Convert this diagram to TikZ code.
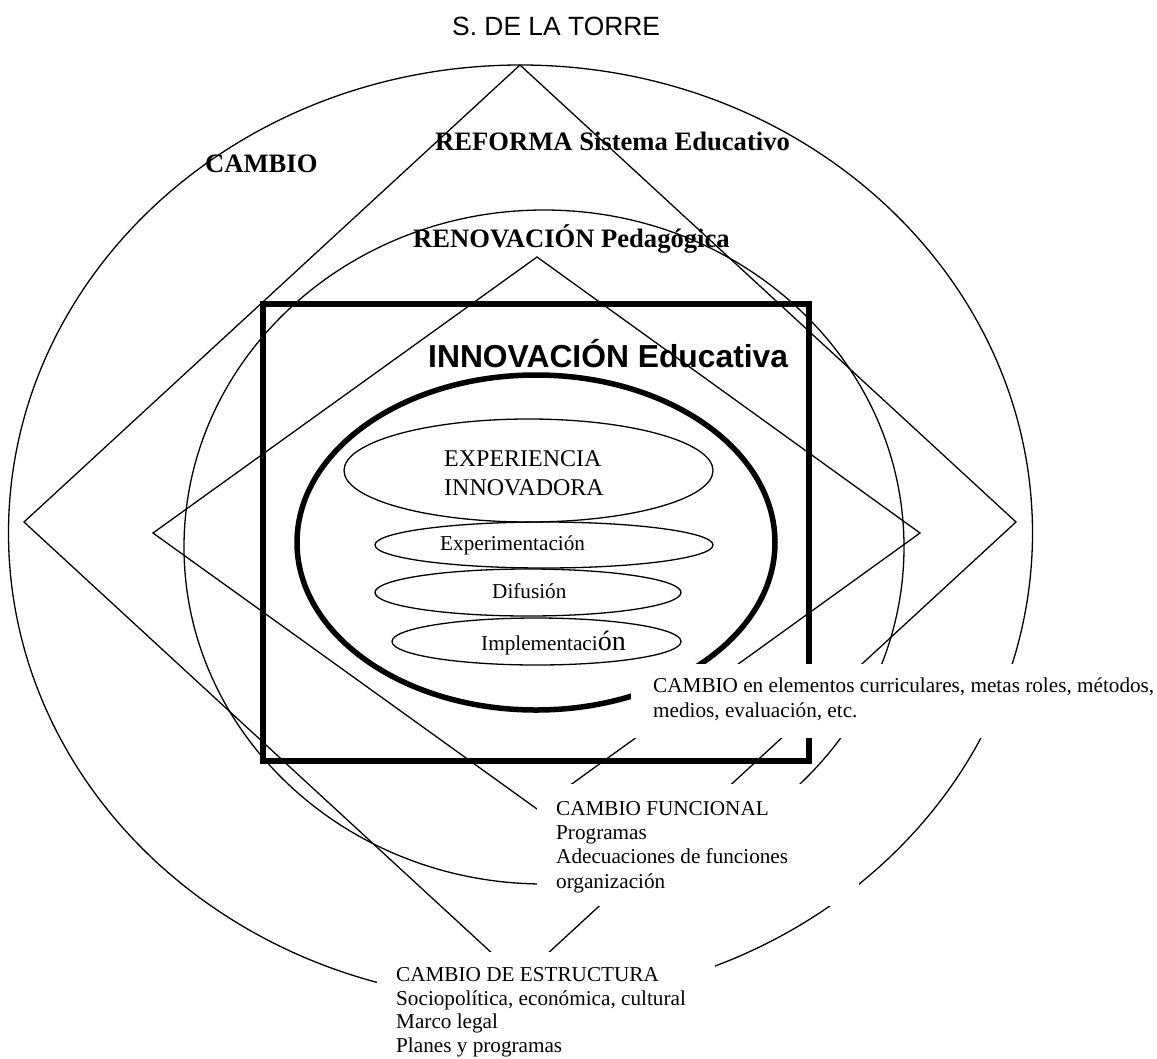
\documentclass[tikz,border=0pt]{standalone}
\usepackage{fontspec}
\setmainfont{Liberation Serif}
\newfontfamily\arialfont{Liberation Sans}
\usetikzlibrary{shapes.geometric}

\begin{document}
\begin{tikzpicture}[x=1pt,y=-1pt,
  thinline/.style={line width=1.3pt, line join=miter},
  heavy/.style={line width=5.5pt},
  oval/.style={ellipse, draw, line width=1.3pt, inner sep=0pt},
  txt/.style={inner sep=0pt, anchor=base west, align=left,
    font=\fontsize{21.2}{24.3}\selectfont},
  bigtxt/.style={inner sep=0pt, anchor=base west, align=left,
    font=\fontsize{24}{29}\selectfont},
  heading/.style={inner sep=0pt, anchor=base west,
    font=\bfseries\fontsize{26.6}{30}\selectfont},
  cover/.style={fill=white, draw=none},
]
\useasboundingbox (0,0) rectangle (1157,1058);
\fill[white] (0,0) rectangle (1157,1058);

% ---- CAMBIO: outer ellipse
\node[oval, minimum width=1024pt, minimum height=936pt] (cambio) at (520.5,533) {};

% ---- REFORMA: outer diamond
\coordinate (rT) at (520,65);
\coordinate (rR) at (1016,522);
\coordinate (rB) at (520,979);
\coordinate (rL) at (24,522);
\draw[thinline] (rT) -- (rR) -- (rB) -- (rL) -- cycle;

% ---- RENOVACION: middle ellipse
\node[oval, minimum width=720pt, minimum height=674pt] (renov) at (544,547) {};

% ---- inner diamond
\coordinate (pT) at (537,257);
\coordinate (pR) at (920,533);
\coordinate (pB) at (537,809);
\coordinate (pL) at (153,533);
\draw[thinline] (pT) -- (pR) -- (pB) -- (pL) -- cycle;

% ---- INNOVACION: heavy frame and heavy ellipse
\node[draw, heavy, rectangle, inner sep=0pt, minimum width=546pt, minimum height=457pt] (frame) at (536,532.5) {};
\node[ellipse, draw, heavy, inner sep=0pt, minimum width=478pt, minimum height=335pt] (core) at (536,542.5) {};

% ---- stages
\node[oval, minimum width=369pt, minimum height=103pt] (expe) at (528.5,470.5) {};
\node[oval, minimum width=338pt, minimum height=46pt] (exper) at (544,545) {};
\node[oval, minimum width=306pt, minimum height=47pt] (difu) at (528,592.5) {};
\node[oval, minimum width=289pt, minimum height=47pt] (impl) at (536.5,641.5) {};

% ---- labels (multi-line labels are anchored on their last baseline)
\node[inner sep=0pt, anchor=base west, font=\arialfont\fontsize{26.4}{30}\selectfont] (title) at (452,35) {S. DE LA TORRE};
\node[heading] (lcambio) at (205,172) {CAMBIO};
\node[heading] (lreforma) at (435,150) {REFORMA Sistema Educativo};
\node[heading] (lrenov) at (413,247) {RENOVACIÓN Pedagógica};
\node[inner sep=0pt, anchor=base west, font=\arialfont\bfseries\fontsize{31.8}{36}\selectfont] (linnov) at (428,367) {INNOVACIÓN Educativa};

\node[bigtxt] (lexpe) at (444,495) {EXPERIENCIA\\INNOVADORA};
\node[txt] (lexper) at (440,550) {Experimentación};
\node[txt] (ldifu) at (492,598) {Difusión};
\node[txt] (limpl) at (481,650) {Implementaci{\fontsize{28}{30}\selectfont ón}};

% ---- white text boxes lying over the rings
\fill[cover] (631,664) rectangle (1157,738);
\node[txt] (lcurric) at (653,717) {CAMBIO en elementos curriculares, metas roles, métodos,\\medios, evaluación, etc.};

\fill[cover] (537,784) rectangle (859,906);
\node[txt] (lfunc) at (556,888) {CAMBIO FUNCIONAL\\Programas\\Adecuaciones de funciones\\organización};

\fill[cover] (377,952) rectangle (715,1070);
\node[txt, font=\fontsize{21.2}{23.7}\selectfont] (lestr) at (396,1052.5) {CAMBIO DE ESTRUCTURA\\Sociopolítica, económica, cultural\\Marco legal\\Planes y programas};
\end{tikzpicture}
\end{document}
